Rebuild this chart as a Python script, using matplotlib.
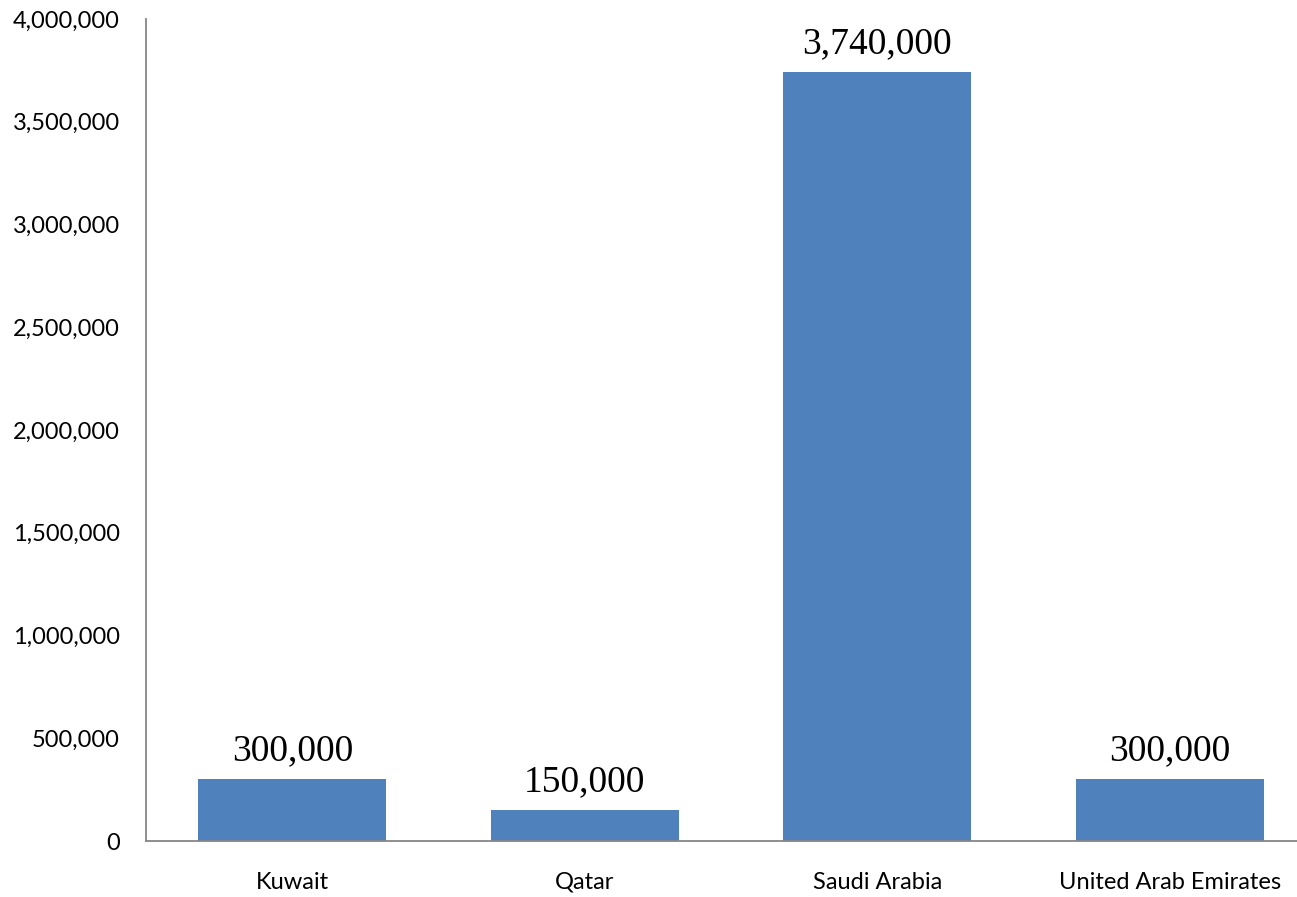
import matplotlib
matplotlib.use("Agg")
import matplotlib.pyplot as plt
from matplotlib.ticker import FuncFormatter, MultipleLocator

categories = ["Kuwait", "Qatar", "Saudi Arabia", "United Arab Emirates"]
values = [300000, 150000, 3740000, 300000]

fig = plt.figure(figsize=(12.97, 8.97), dpi=100)
ax = fig.add_axes([146/1297, 56/897, (1297-146)/1297, 822/897])

x = list(range(len(categories)))
bars = ax.bar(x, values, width=0.643, color="#4F81BD", zorder=2)

ax.set_xlim(-0.5, (1297-146)/292.5 - 0.5)
ax.set_ylim(0, 4000000)
ax.yaxis.set_major_locator(MultipleLocator(500000))
ax.yaxis.set_major_formatter(FuncFormatter(lambda v, p: f"{int(v):,}"))
ax.set_xticks(x)
ax.set_xticklabels(categories)

for s in ["top", "right"]:
    ax.spines[s].set_visible(False)
for s in ["left", "bottom"]:
    ax.spines[s].set_color("#868686")
    ax.spines[s].set_linewidth(1.3)

ax.tick_params(axis="both", length=0, labelsize=17)
ax.tick_params(axis="y", pad=19)
ax.tick_params(axis="x", pad=22)
for lab in ax.get_xticklabels() + ax.get_yticklabels():
    lab.set_fontfamily("Lato")

for b, v in zip(bars, values):
    ax.annotate(f"{v:,}", (b.get_x() + b.get_width()/2, v), xytext=(0, 8),
                textcoords="offset points", ha="center", va="bottom",
                fontsize=27, fontfamily="Liberation Serif", color="black")

fig.savefig("out.png", dpi=100)
